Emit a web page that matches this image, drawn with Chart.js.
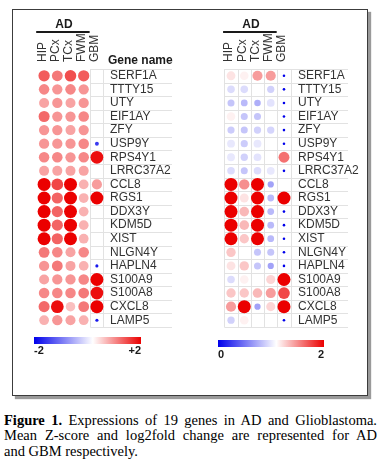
<!DOCTYPE html>
<html><head><meta charset="utf-8">
<script src="https://cdn.jsdelivr.net/npm/chart.js@4"></script>
<style>
html,body{margin:0;padding:0;background:#fff;}
body{width:380px;height:469px;position:relative;overflow:hidden;}
#box{position:absolute;left:12px;top:9px;width:354px;height:385px;border:1px solid #3c3c3c;box-shadow:3px 3px 1px #9a9a9a;}
.panel{position:absolute;top:0;width:190px;height:400px;}
#cap{position:absolute;left:4px;top:413px;width:373px;font-family:'Liberation Serif','Times New Roman',serif;font-size:14.5px;line-height:15.3px;color:#000;}
#cap div{text-align:justify;text-align-last:justify;white-space:nowrap;}
#cap div.last{text-align-last:left;}
</style></head><body>
<div id="box"></div>
<div class="panel" style="left:0"><canvas id="c1"></canvas></div>
<div class="panel" style="left:190px"><canvas id="c2"></canvas></div>
<div id="cap"><div><b>Figure 1.</b> Expressions of 19 genes in AD and Glioblastoma.</div><div>Mean Z-score and log2fold change are represented for AD</div><div class="last">and GBM respectively.</div></div>
<script>
// ---- data ----
const genes = ['SERF1A','TTTY15','UTY','EIF1AY','ZFY','USP9Y','RPS4Y1','LRRC37A2','CCL8','RGS1','DDX3Y','KDM5D','XIST','NLGN4Y','HAPLN4','S100A9','S100A8','CXCL8','LAMP5'];
const regions = ['HIP','PCx','TCx','FWM','GBM'];
// left panel: mean Z-score (AD columns) / GBM, scale -2..+2
const zScore = [
  [1.35, 1.15, 1.45, 1.35, null],
  [1.05, 0.95, 1.05, 0.95, null],
  [0.85, 0.95, 0.85, 0.95, null],
  [1.25, 0.95, 0.95, 1.05, null],
  [0.95, 0.95, 0.85, 0.95, null],
  [0.95, 0.95, 0.95, 1.05, -1.5],
  [1.05, 1.05, 0.95, 1.05, 1.9],
  [0.85, 0.85, 0.85, 0.85, null],
  [2.0, 1.5, 2.0, 0.75, 0.9],
  [2.0, 1.3, 2.0, 0.75, 2.0],
  [2.0, 1.3, 2.0, 0.75, null],
  [2.0, 1.3, 2.0, 0.75, null],
  [2.0, 1.3, 2.0, 0.75, null],
  [1.15, 1.05, 0.85, 1.05, null],
  [0.95, 1.15, 0.85, 0.75, -1.8],
  [0.85, 0.95, 0.95, 1.05, 2.0],
  [1.05, 1.05, 1.05, 1.15, 1.9],
  [1.25, 1.9, 0.65, 1.15, 2.0],
  [0.75, 0.95, 0.85, 0.75, -1.8]
];
// right panel: log2 fold change, scale 0..2
const log2fc = [
  [1.2, 1.15, 1.45, 1.45, 0],
  [0.95, 0.95, 1.1, 0.9, 0],
  [0.85, 0.8, 0.75, 0.98, 0],
  [1.15, 0.85, 0.85, 1.1, 0],
  [0.88, 0.85, 0.9, 0.92, 0],
  [1.0, 0.88, 1.0, 1.1, 0],
  [1.0, 0.9, 0.98, 1.1, 1.6],
  [0.95, 0.85, 0.95, 1.0, 0],
  [2.0, 1.5, 2.0, 0.7, null],
  [2.0, 1.2, 2.0, 0.8, 2.0],
  [2.0, 1.35, 2.0, 0.8, 0],
  [2.0, 1.35, 2.0, 0.8, 0],
  [2.0, 1.3, 2.0, 0.8, 0],
  [1.3, 1.1, 0.85, 0.85, 0],
  [1.2, 1.3, 0.85, 0.7, 0],
  [0.95, 1.15, 1.1, 1.25, 2.0],
  [1.3, 1.3, 1.35, 1.45, 1.75],
  [1.45, 2.0, 0.7, 1.25, 2.0],
  [0.9, 1.15, 1.1, 1.1, 0]
];
const zRange = [-2, 2];
const zTickLabels = ['-2', '+2'];
const fcRange = [0, 2];
const fcTickLabels = ['0', '2'];

// ---- styling helpers ----
const FONT = "'Liberation Sans', Arial, sans-serif";
const BLUE = [0, 0, 235], WHITE = [255, 255, 255], RED = [235, 0, 0], MID = 0.55;
function mix(a, b, t) { return a.map((v, i) => Math.round(v + (b[i] - v) * t)); }
function colorFor(f) {
  f = Math.min(1, Math.max(0, f));
  const c = f <= MID ? mix(BLUE, WHITE, f / MID) : mix(WHITE, RED, (f - MID) / (1 - MID));
  return 'rgb(' + c.join(',') + ')';
}
function radiusFor(f) { return 1.3 + 5.2 * Math.min(1, Math.max(0, f)); }

const cellGrid = {
  id: 'cellGrid',
  beforeDatasetsDraw(chart, args, o) {
    const {ctx} = chart, x = chart.scales.x, y = chart.scales.y;
    const nC = x.getLabels().length, nR = y.getLabels().length;
    const cw = x.getPixelForValue(1) - x.getPixelForValue(0);
    const rh = y.getPixelForValue(1) - y.getPixelForValue(0);
    const x0 = x.getPixelForValue(0) - cw / 2, y0 = y.getPixelForValue(0) - rh / 2;
    const xs = x0 + o.fromCol * cw;
    ctx.save();
    ctx.strokeStyle = o.color; ctx.lineWidth = 1;
    ctx.beginPath();
    for (let i = 0; i <= nR; i++) {
      const yy = Math.round(y0 + i * rh) + 0.5;
      ctx.moveTo(xs, yy); ctx.lineTo(o.extendTo, yy);
    }
    for (let j = o.fromCol; j <= nC; j++) {
      const xx = Math.round(x0 + j * cw) + 0.5;
      ctx.moveTo(xx, y0); ctx.lineTo(xx, y0 + nR * rh);
    }
    ctx.stroke();
    ctx.restore();
  }
};

const deco = {
  id: 'deco',
  afterDraw(chart, args, o) {
    const {ctx} = chart, x = chart.scales.x;
    const cw = x.getPixelForValue(1) - x.getPixelForValue(0);
    const lx0 = x.getPixelForValue(0) - cw * 0.6, lx1 = x.getPixelForValue(3) + cw * 0.45;
    ctx.save();
    ctx.strokeStyle = '#1a1a1a'; ctx.lineWidth = 2;
    ctx.beginPath(); ctx.moveTo(lx0, 32); ctx.lineTo(lx1, 32); ctx.stroke();
    ctx.fillStyle = '#1a1a1a';
    ctx.font = 'bold 12px ' + FONT;
    ctx.textAlign = 'center'; ctx.textBaseline = 'middle';
    ctx.fillText('AD', (lx0 + lx1) / 2 + 1, 25);
    if (o.header) {
      ctx.textAlign = 'left'; ctx.textBaseline = 'alphabetic';
      ctx.fillText(o.header, o.headerX, 63.5);
    }
    // colour bar
    const b = o.bar;
    const g = ctx.createLinearGradient(b.x0, 0, b.x1, 0);
    g.addColorStop(0, colorFor(0)); g.addColorStop(MID, colorFor(MID)); g.addColorStop(1, colorFor(1));
    ctx.fillStyle = g;
    ctx.fillRect(b.x0, b.y0, b.x1 - b.x0, b.h);
    ctx.fillStyle = '#1a1a1a';
    ctx.font = 'bold 11px ' + FONT;
    ctx.textBaseline = 'alphabetic';
    ctx.textAlign = 'left'; ctx.fillText(b.labels[0], b.x0, b.labelY);
    ctx.textAlign = 'right'; ctx.fillText(b.labels[1], b.x1, b.labelY);
    ctx.restore();
  }
};

function makeChart(id, values, range, cfg) {
  const [lo, hi] = range;
  const pts = [];
  values.forEach((row, i) => row.forEach((v, j) => {
    if (v === null) return;
    const f = (v - lo) / (hi - lo);
    pts.push({x: regions[j], y: genes[i], r: radiusFor(f), f: f});
  }));
  return new Chart(document.getElementById(id), {
    type: 'bubble',
    data: {datasets: [{data: pts, backgroundColor: c => colorFor(c.raw ? c.raw.f : 0), borderWidth: 0, hoverBorderWidth: 0, hoverRadius: 0}]},
    options: {
      responsive: true, maintainAspectRatio: false, animation: false, events: [],
      layout: {padding: {left: cfg.padLeft, top: 0, right: 0, bottom: cfg.padBottom}},
      plugins: {
        legend: {display: false}, tooltip: {enabled: false},
        cellGrid: {fromCol: cfg.gridFrom, extendTo: cfg.gridTo, color: '#e2e2e2'},
        deco: {header: cfg.header, headerX: cfg.headerX, bar: cfg.bar}
      },
      scales: {
        x: {type: 'category', labels: regions, position: 'top', offset: true,
            grid: {display: false, drawTicks: false}, border: {display: false},
            ticks: {autoSkip: false, minRotation: 90, maxRotation: 90, padding: 7, labelOffset: 12.5, color: '#333', font: {family: FONT, size: 12}},
            afterFit: s => { s.height = cfg.top; }},
        y: {type: 'category', labels: genes, position: 'right', offset: true,
            grid: {display: false, drawTicks: false}, border: {display: false},
            ticks: {autoSkip: false, padding: cfg.labelPad, color: '#333', font: {family: FONT, size: 12}},
            afterFit: s => { s.width = cfg.axisWidth; }}
      }
    },
    plugins: [cellGrid, deco]
  });
}

makeChart('c1', zScore, zRange, {
  padLeft: 37.5, padBottom: 73, top: 69, axisWidth: 86.5, labelPad: 6.5,
  gridFrom: 4, gridTo: 172, header: 'Gene name', headerX: 108,
  bar: {x0: 34, x1: 141, y0: 337, h: 7, labelY: 354, labels: zTickLabels}
});
makeChart('c2', log2fc, fcRange, {
  padLeft: 34.4, padBottom: 73, top: 69, axisWidth: 89.4, labelPad: 7.4,
  gridFrom: 0, gridTo: 158, header: null, headerX: 0,
  bar: {x0: 28, x1: 134, y0: 340, h: 7, labelY: 358, labels: fcTickLabels}
});
</script>
</body></html>
